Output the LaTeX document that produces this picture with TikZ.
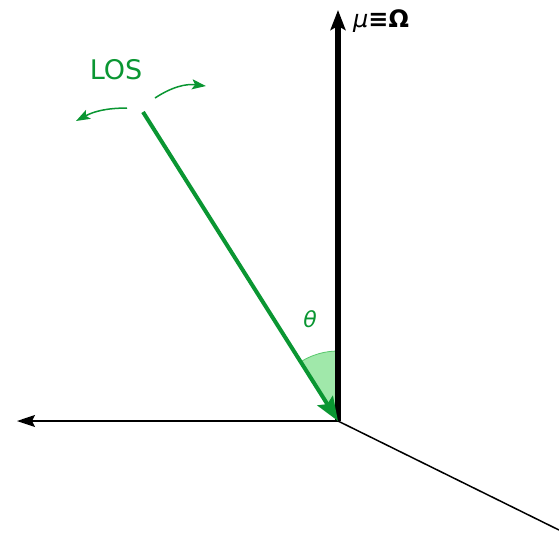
\documentclass[tikz,border=0pt]{standalone}
\usepackage{fontspec}
\setmainfont{DejaVu Sans}
\usetikzlibrary{arrows.meta}
\definecolor{losgreen}{RGB}{10,150,50}
\definecolor{wedgefill}{RGB}{160,232,170}
\definecolor{wedgeline}{RGB}{90,200,110}
\begin{document}
\begin{tikzpicture}[x=1pt,y=-1pt,
  axis/.style={draw=black,line width=1.5pt},
  green arc/.style={draw=losgreen,line width=1.5pt,-{Stealth[length=14pt,width=10pt,inset=3pt]}}]
\useasboundingbox (0,0) rectangle (559,539);
\coordinate (O) at (338,421);
\coordinate (Z) at (338,10);
\coordinate (X) at (17,421);
\coordinate (Y) at (559,530);
\coordinate (L) at (143,112);
% wedge
\fill[wedgefill,draw=wedgeline,line width=0.8pt] (O) -- ++(0,-70) arc[start angle=-90,end angle=-122.3,radius=70] -- cycle;
\draw[axis] (O) -- (Y);
\draw[axis,-{Stealth[length=18pt,width=12pt,inset=3pt]}] (O) -- (X);
\draw[black,line width=5.5pt,-{Stealth[length=20pt,width=15pt,inset=4pt]}] (O) -- (Z);
\draw[losgreen,line width=4pt,-{Stealth[length=24pt,width=18pt,inset=4pt]}] (L) -- (O);
\node[text=losgreen,font=\fontsize{27}{30}\selectfont] (los) at (116,70) {LOS};
\node[text=losgreen,font=\fontsize{22}{26}\selectfont\itshape] (th) at (310,319) {θ};
\node[anchor=west,inner sep=0pt,font=\fontsize{24}{28}\selectfont] (mu) at (353,21) {\textit{μ}\textbf{≡Ω}};
\coordinate (a1s) at (127,108);
\coordinate (a1e) at (76,121);
\coordinate (a2s) at (155,98);
\coordinate (a2e) at (206,86);
\draw[green arc] (a1s) to[bend right=14] (a1e);
\draw[green arc] (a2s) to[bend left=20] (a2e);
\end{tikzpicture}
\end{document}
